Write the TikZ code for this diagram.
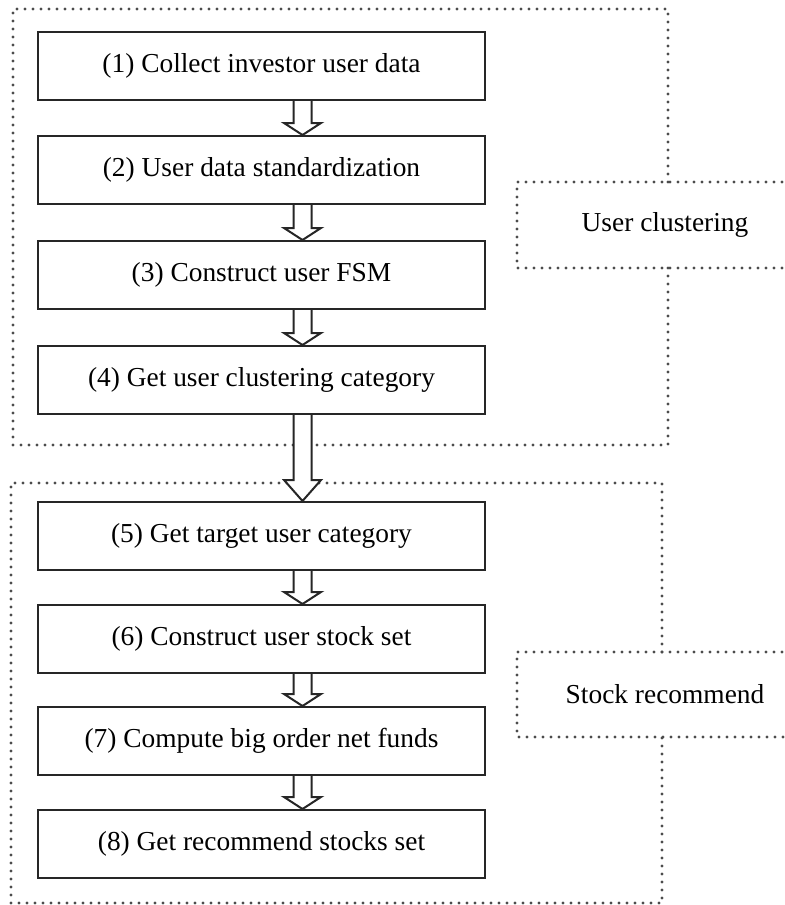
\documentclass[tikz,border=0pt]{standalone}
\usepackage{fontspec}
\setmainfont{Liberation Serif}
\usetikzlibrary{calc}

% hollow block arrow from the foot of one box to the head of the next
\newcommand{\flowarrow}[3]{%
  \draw[arrowline] ($(#1.south -| ax)+(-9,0)$) -- ($(#2.north -| ax)+(-9,-#3)$)
    -- ($(#2.north -| ax)+(-18.5,-#3)$) -- (#2.north -| ax)
    -- ($(#2.north -| ax)+(18.5,-#3)$) -- ($(#2.north -| ax)+(9,-#3)$)
    -- ($(#1.south -| ax)+(9,0)$);
}

\begin{document}
\begin{tikzpicture}[x=0.5pt,y=-0.5pt,
  stepbox/.style={draw=black!85,line width=1pt,minimum width=223.5pt,
    minimum height=34pt,inner sep=0pt,font=\fontsize{13.7}{16}\selectfont},
  groupline/.style={draw=black!70,line width=1.6pt,line cap=round,
    dash pattern=on 0pt off 4pt},
  grouplabel/.style={font=\fontsize{13.7}{16}\selectfont},
  arrowline/.style={draw=black!85,line width=1pt,fill=white,line join=miter}]
\useasboundingbox (0,0) rectangle (785,905);
\coordinate (ax) at (302.5,0);
% dotted group frames
\draw[groupline] (668,182) -- (668,9) -- (13,9) -- (13,445) -- (668,445) -- (668,268);
\draw[groupline] (790,182) -- (517,182) -- (517,268) -- (790,268);
\draw[groupline] (662,652) -- (662,483) -- (11,483) -- (11,903) -- (662,903) -- (662,737);
\draw[groupline] (790,652) -- (517,652) -- (517,737) -- (790,737);
\node[grouplabel] (gl1) at (665,225) {User clustering};
\node[grouplabel] (gl2) at (665,694) {Stock recommend};
% steps
\node[stepbox] (b1) at (261.5,66) {(1) Collect investor user data};
\node[stepbox] (b2) at (261.5,170) {(2) User data standardization};
\node[stepbox] (b3) at (261.5,275) {(3) Construct user FSM};
\node[stepbox] (b4) at (261.5,380) {(4) Get user clustering category};
\node[stepbox] (b5) at (261.5,536) {(5) Get target user category};
\node[stepbox] (b6) at (261.5,639) {(6) Construct user stock set};
\node[stepbox] (b7) at (261.5,741) {(7) Compute big order net funds};
\node[stepbox] (b8) at (261.5,844) {(8) Get recommend stocks set};
% arrows
\flowarrow{b1}{b2}{12}
\flowarrow{b2}{b3}{12}
\flowarrow{b3}{b4}{12}
\flowarrow{b4}{b5}{21}
\flowarrow{b5}{b6}{12}
\flowarrow{b6}{b7}{12}
\flowarrow{b7}{b8}{12}
\end{tikzpicture}
\end{document}
